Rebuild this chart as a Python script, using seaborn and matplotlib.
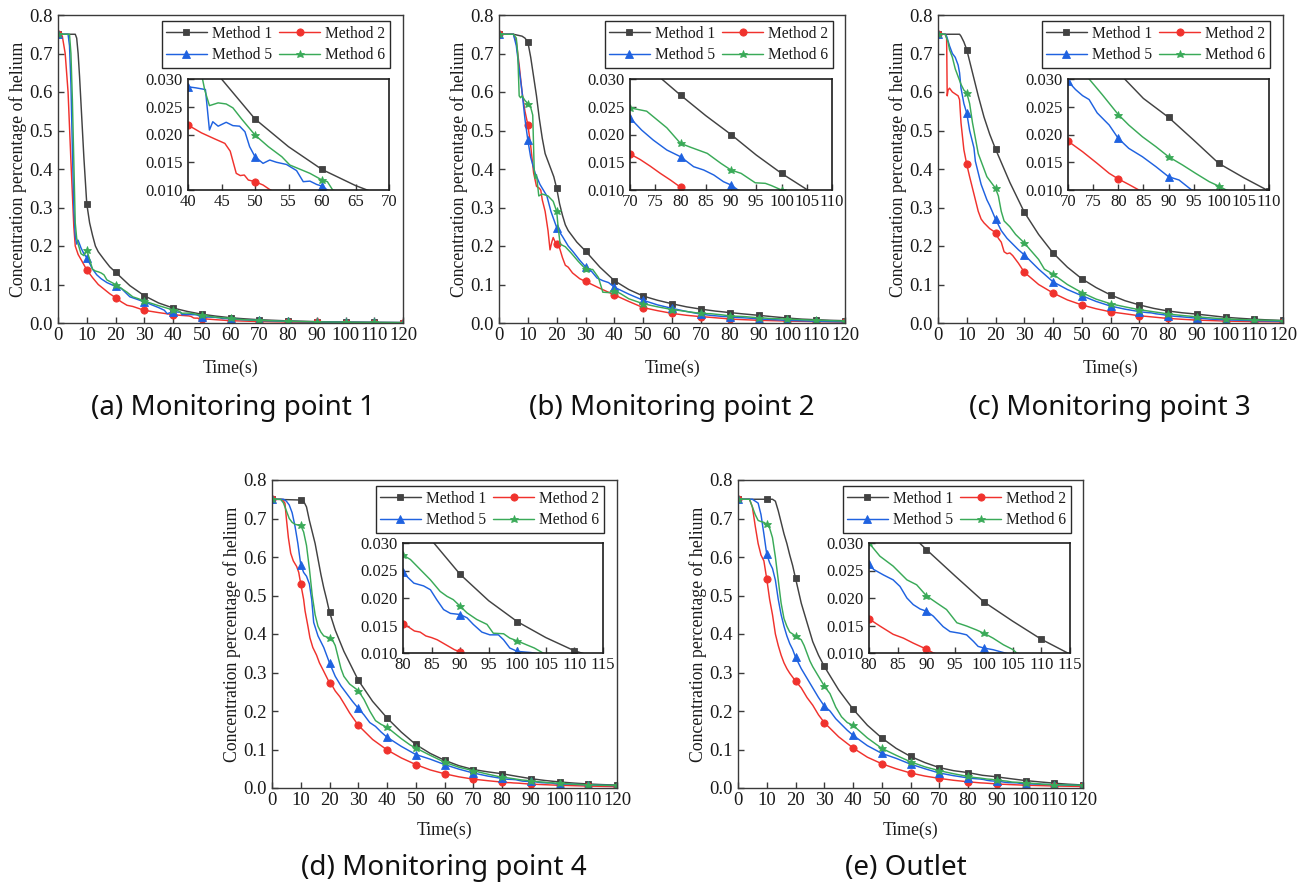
import numpy as np
import matplotlib
matplotlib.use("Agg")
import matplotlib.pyplot as plt
from matplotlib.ticker import FormatStrFormatter, MultipleLocator
import seaborn as sns

# ---------------------------------------------------------------------------
# Helium concentration versus time (s) at each monitoring location.
# Each method has its own time samples (T) and concentration values (C).
# ---------------------------------------------------------------------------
METHODS = ["Method 1", "Method 2", "Method 5", "Method 6"]

# (a) Monitoring point 1
A_M1_T = [0, 6, 6.5, 7, 7.5, 8, 8.5, 9, 9.5, 10, 11, 12, 13, 14, 16, 18, 20, 25, 30, 35,
          40, 45, 50, 55, 60, 65, 70, 80, 90, 100, 110, 120]
A_M1_C = [0.75, 0.75, 0.74, 0.70, 0.64, 0.57, 0.50, 0.43, 0.37, 0.31, 0.26, 0.228, 0.20, 0.185,
          0.165, 0.146, 0.132, 0.097, 0.071, 0.052, 0.039, 0.030, 0.0228, 0.0178, 0.0137, 0.0108,
          0.0085, 0.0055, 0.0036, 0.0025, 0.0017, 0.0012]
A_M2_T = [0, 1.5, 2.5, 3.5, 4.5, 5.5, 6, 7, 8, 10, 12, 14, 16, 18, 20, 22, 24, 26, 28, 30,
          35, 40, 42, 44, 45.5, 46.3, 47.2, 47.8, 48.4, 49, 50, 51.2, 52.3, 55, 60, 70, 80, 90,
          100, 110, 120]
A_M2_C = [0.75, 0.745, 0.70, 0.60, 0.42, 0.25, 0.20, 0.178, 0.165, 0.138, 0.118, 0.100, 0.088,
          0.076, 0.066, 0.055, 0.046, 0.043, 0.038, 0.033, 0.027, 0.0217, 0.0203, 0.0192, 0.0184,
          0.0170, 0.0130, 0.0126, 0.0127, 0.0118, 0.0115, 0.0109, 0.0100, 0.0085, 0.0060, 0.0038,
          0.0025, 0.0017, 0.0012, 0.0009, 0.0007]
A_M5_T = [0, 3.5, 4, 4.5, 5, 5.5, 6, 6.5, 7, 8, 9, 10, 11, 12, 13.5, 15, 17, 20, 22, 25,
          30, 35, 37, 38, 39, 40, 41.2, 42.6, 43.2, 43.7, 44.5, 45.7, 46.7, 47.7, 48.5, 49.2,
          50, 51.2, 52.2, 53.2, 54.7, 56.2, 57.2, 58.2, 59.2, 60, 60.8, 65, 70, 80, 90, 100,
          110, 120]
A_M5_C = [0.75, 0.75, 0.72, 0.62, 0.45, 0.30, 0.225, 0.205, 0.215, 0.195, 0.18, 0.17, 0.155,
          0.14, 0.125, 0.115, 0.105, 0.095, 0.09, 0.068, 0.055, 0.040, 0.033, 0.024, 0.027,
          0.0286, 0.0284, 0.0281, 0.0208, 0.0223, 0.0215, 0.0222, 0.0216, 0.0215, 0.0205, 0.0178,
          0.0160, 0.0148, 0.0154, 0.0150, 0.0146, 0.0135, 0.0115, 0.0116, 0.0110, 0.0107, 0.0100,
          0.0082, 0.0065, 0.0040, 0.0028, 0.0019, 0.0014, 0.0010]
A_M6_T = [0, 4, 4.5, 5, 5.5, 6, 6.5, 7, 8, 9, 10, 11, 12, 13, 14, 15, 16, 17, 18, 20,
          22, 24, 26, 28, 30, 35, 40, 41, 42, 42.5, 43.2, 44.5, 45.7, 46.7, 48, 50, 52, 54,
          55.2, 56, 58.2, 60, 60.8, 61.6, 65, 70, 80, 90, 100, 110, 120]
A_M6_C = [0.75, 0.75, 0.70, 0.58, 0.42, 0.26, 0.22, 0.205, 0.18, 0.175, 0.19, 0.165, 0.14,
          0.135, 0.133, 0.13, 0.125, 0.112, 0.108, 0.10, 0.09, 0.08, 0.068, 0.063, 0.057, 0.045,
          0.034, 0.033, 0.031, 0.028, 0.0252, 0.0257, 0.0255, 0.0248, 0.0228, 0.0199, 0.0178,
          0.0160, 0.0145, 0.0141, 0.0130, 0.0118, 0.0115, 0.0100, 0.0085, 0.0068, 0.0045,
          0.0030, 0.0020, 0.0015, 0.0010]

# (b) Monitoring point 2
B_M1_T = [0, 5, 8, 9, 10, 11, 12, 13, 14, 15, 16, 17, 18, 19, 20, 21, 22, 23, 24, 25,
          27, 30, 35, 40, 45, 50, 55, 60, 65, 70, 75, 80, 85, 90, 95, 100, 105, 110, 115, 120]
B_M1_C = [0.75, 0.75, 0.745, 0.74, 0.73, 0.69, 0.64, 0.59, 0.53, 0.48, 0.44, 0.42, 0.40, 0.38,
          0.35, 0.31, 0.28, 0.255, 0.24, 0.23, 0.21, 0.187, 0.145, 0.11, 0.087, 0.070, 0.059,
          0.050, 0.042, 0.036, 0.031, 0.0271, 0.0234, 0.0200, 0.0163, 0.0130, 0.0101, 0.0085,
          0.0070, 0.0060]
B_M2_T = [0, 5, 6, 7, 8, 9, 10, 11, 12, 13, 14, 14.5, 15, 16, 17, 17.7, 18.3, 18.8, 19.5, 20,
          21, 22, 23, 24, 25.5, 28, 30, 35, 40, 45, 50, 55, 60, 65, 70, 72, 74, 76, 78, 80,
          80.5, 90, 100, 110, 120]
B_M2_C = [0.75, 0.75, 0.73, 0.67, 0.60, 0.55, 0.515, 0.46, 0.39, 0.355, 0.35, 0.345, 0.32,
          0.29, 0.24, 0.19, 0.21, 0.222, 0.21, 0.204, 0.195, 0.17, 0.15, 0.145, 0.13, 0.115,
          0.108, 0.09, 0.073, 0.056, 0.040, 0.032, 0.025, 0.020, 0.0165, 0.0155, 0.0143, 0.0130,
          0.0118, 0.0105, 0.0100, 0.0070, 0.0050, 0.0035, 0.0025]
B_M5_T = [0, 5, 6, 7, 8, 9, 10, 11, 12.5, 14.2, 16.6, 18, 20, 22, 24, 25.7, 28, 30, 32, 34,
          36, 38, 40, 45, 50, 55, 60, 65, 70, 72.3, 74.6, 77.3, 80, 82.6, 84.6, 86.6, 88.5,
          90, 91.4, 100, 110, 120]
B_M5_C = [0.75, 0.75, 0.72, 0.66, 0.60, 0.53, 0.475, 0.43, 0.39, 0.36, 0.33, 0.29, 0.248,
          0.225, 0.20, 0.185, 0.163, 0.146, 0.135, 0.117, 0.11, 0.105, 0.093, 0.075, 0.059,
          0.047, 0.038, 0.030, 0.0230, 0.0208, 0.0190, 0.0172, 0.0160, 0.0142, 0.0136, 0.0127,
          0.0115, 0.0109, 0.0100, 0.0070, 0.0045, 0.0030]
B_M6_T = [0, 5, 6, 6.5, 7, 7.5, 8, 9, 10, 11, 11.7, 12.2, 12.5, 13, 13.8, 15, 17, 18.8, 20,
          20.5, 21.2, 23, 25, 27.5, 30, 32.5, 34.5, 36, 38, 40, 42, 45, 50, 55, 60, 65, 70,
          73.3, 77.3, 80, 82, 85.3, 88, 90, 92, 94.8, 96.8, 98, 100, 110, 120]
B_M6_C = [0.75, 0.75, 0.74, 0.70, 0.59, 0.585, 0.59, 0.578, 0.57, 0.56, 0.54, 0.40, 0.375,
          0.385, 0.33, 0.335, 0.33, 0.316, 0.29, 0.25, 0.205, 0.198, 0.182, 0.16, 0.14, 0.139,
          0.118, 0.08, 0.079, 0.083, 0.077, 0.063, 0.050, 0.042, 0.035, 0.030, 0.0248, 0.0242,
          0.0212, 0.0184, 0.0177, 0.0166, 0.0148, 0.0136, 0.0130, 0.0113, 0.0112, 0.0108,
          0.0100, 0.0070, 0.0050]

# (c) Monitoring point 3
C_M1_T = [0, 7.5, 8, 9, 10, 12, 14, 16, 18, 20, 25, 30, 35, 40, 45, 50, 55, 60, 65, 70,
          75, 80, 85, 90, 95, 100, 105, 110, 115, 120]
C_M1_C = [0.75, 0.75, 0.745, 0.73, 0.71, 0.65, 0.59, 0.535, 0.49, 0.452, 0.365, 0.288, 0.23,
          0.182, 0.145, 0.115, 0.092, 0.073, 0.058, 0.047, 0.038, 0.0312, 0.0265, 0.0231, 0.0190,
          0.0148, 0.0122, 0.0098, 0.0080, 0.0065]
C_M2_T = [0, 2.5, 3, 3.2, 3.5, 4, 4.5, 5, 6, 7, 7.5, 8, 9, 10, 11, 12, 13, 14, 15, 16,
          18, 20, 21, 22, 23, 24, 25, 26, 28, 30, 35, 40, 45, 50, 55, 60, 65, 70, 72.9, 75.8,
          78.2, 80, 82.1, 84.1, 90, 100, 110, 120]
C_M2_C = [0.75, 0.75, 0.74, 0.59, 0.605, 0.61, 0.605, 0.60, 0.595, 0.59, 0.58, 0.52, 0.45,
          0.412, 0.38, 0.35, 0.32, 0.29, 0.27, 0.26, 0.245, 0.235, 0.22, 0.21, 0.185, 0.18,
          0.182, 0.175, 0.155, 0.132, 0.10, 0.078, 0.06, 0.047, 0.037, 0.029, 0.024, 0.0188,
          0.0169, 0.0148, 0.0130, 0.0120, 0.0110, 0.0100, 0.0075, 0.0050, 0.0035, 0.0028]
C_M5_T = [0, 2.5, 3, 4, 5, 6, 7, 7.5, 8, 9, 10, 11, 12, 12.5, 13, 14, 15, 16, 17, 18,
          20, 22, 24, 26, 28, 30, 35, 40, 45, 50, 55, 60, 65, 70, 71.5, 72.9, 74.2, 75.8, 78.2,
          80, 82.1, 84.8, 87.5, 90, 92.1, 94.6, 100, 110, 120]
C_M5_C = [0.75, 0.75, 0.745, 0.72, 0.70, 0.69, 0.67, 0.65, 0.61, 0.57, 0.545, 0.50, 0.47,
          0.455, 0.42, 0.39, 0.36, 0.34, 0.32, 0.305, 0.27, 0.24, 0.22, 0.205, 0.19, 0.177, 0.14,
          0.107, 0.087, 0.071, 0.056, 0.044, 0.036, 0.0296, 0.0281, 0.0270, 0.0263, 0.0239,
          0.0217, 0.0193, 0.0175, 0.0160, 0.0142, 0.0124, 0.0118, 0.0100, 0.0082, 0.0060, 0.0045]
C_M6_T = [0, 2.5, 3.5, 4, 5, 6, 7, 8, 9, 10, 11, 12, 13, 14, 15, 16, 17, 18, 19, 20,
          21, 22, 23, 25, 27, 30, 35, 37, 40, 45, 50, 55, 60, 65, 70, 74.2, 76.8, 80, 82.1,
          84.8, 87.5, 90, 92.8, 95.4, 98.1, 100, 101.5, 110, 120]
C_M6_C = [0.75, 0.75, 0.73, 0.71, 0.69, 0.66, 0.64, 0.62, 0.605, 0.598, 0.57, 0.52, 0.48,
          0.44, 0.42, 0.40, 0.38, 0.37, 0.36, 0.35, 0.33, 0.29, 0.265, 0.25, 0.23, 0.208, 0.165,
          0.14, 0.127, 0.10, 0.079, 0.062, 0.050, 0.042, 0.0345, 0.0300, 0.0272, 0.0236, 0.0217,
          0.0196, 0.0178, 0.0160, 0.0145, 0.0130, 0.0115, 0.0107, 0.0100, 0.0078, 0.0060]

# (d) Monitoring point 4
D_M1_T = [0, 10, 11, 12, 13, 14, 15, 16, 17, 18, 19, 20, 22, 25, 30, 35, 40, 45, 50, 55,
          60, 65, 70, 75, 80, 85, 90, 95, 100, 105, 110, 115, 120]
D_M1_C = [0.75, 0.748, 0.745, 0.73, 0.695, 0.665, 0.635, 0.595, 0.555, 0.52, 0.49, 0.457,
          0.41, 0.355, 0.28, 0.225, 0.182, 0.145, 0.113, 0.09, 0.072, 0.058, 0.048, 0.042, 0.037,
          0.0305, 0.0243, 0.0195, 0.0157, 0.0128, 0.0104, 0.0088, 0.0075]
D_M2_T = [0, 3.5, 4.5, 5, 5.7, 6.5, 7.4, 8.6, 9.3, 10, 11, 11.5, 12.5, 13.2, 14.2, 15.5, 16.5,
          17.8, 19, 20, 21, 22, 23.6, 25, 27, 30, 35, 40, 45, 50, 55, 60, 65, 70, 75, 80, 81,
          82, 83, 84, 85, 86, 87, 88, 89, 90, 90.3, 100, 110, 120]
D_M2_C = [0.75, 0.75, 0.74, 0.70, 0.65, 0.61, 0.59, 0.575, 0.56, 0.53, 0.49, 0.46, 0.42, 0.39,
          0.365, 0.345, 0.325, 0.306, 0.288, 0.273, 0.265, 0.252, 0.237, 0.22, 0.195, 0.163,
          0.126, 0.099, 0.078, 0.061, 0.047, 0.037, 0.029, 0.023, 0.019, 0.0153, 0.0147, 0.0140,
          0.0138, 0.0131, 0.0128, 0.0124, 0.0118, 0.0112, 0.0106, 0.0102, 0.0100, 0.0070,
          0.0050, 0.0035]
D_M5_T = [0, 4, 5, 6, 7, 8, 9, 10, 11, 12, 13, 13.8, 14.5, 16, 18, 20, 22, 24, 26, 28,
          30, 32, 34, 36, 38, 40, 45, 50, 55, 60, 65, 70, 75, 80, 80.7, 81.9, 83.6, 84.8, 85.9,
          87.1, 88.3, 90, 91.2, 92.3, 93.8, 95.2, 96.7, 97.6, 98.7, 100, 102.2, 103, 110, 120]
D_M5_C = [0.75, 0.75, 0.745, 0.735, 0.715, 0.68, 0.635, 0.58, 0.56, 0.55, 0.53, 0.49, 0.43,
          0.395, 0.365, 0.325, 0.29, 0.265, 0.245, 0.225, 0.207, 0.19, 0.17, 0.16, 0.145, 0.132,
          0.108, 0.087, 0.075, 0.061, 0.049, 0.039, 0.031, 0.0248, 0.0239, 0.0227, 0.0222,
          0.0215, 0.0197, 0.0179, 0.0172, 0.0170, 0.0164, 0.0152, 0.0138, 0.0133, 0.0133,
          0.0124, 0.0109, 0.0103, 0.0101, 0.0100, 0.0080, 0.0060]
D_M6_T = [0, 3, 4, 5, 6, 7, 8, 9, 10, 11, 12, 13, 14, 15, 16, 17, 18, 20, 21, 22,
          23, 24, 25, 27, 30, 32, 34, 36, 38, 40, 45, 48, 50, 55, 60, 65, 70, 75, 80, 81.3,
          83, 84.8, 86.5, 87.7, 88.8, 90, 91.2, 92.9, 94.7, 95.8, 97.6, 98.7, 100, 101.6, 103,
          104.5, 110, 120]
D_M6_C = [0.75, 0.75, 0.74, 0.72, 0.70, 0.69, 0.685, 0.683, 0.682, 0.665, 0.63, 0.57, 0.50,
          0.45, 0.42, 0.405, 0.395, 0.39, 0.385, 0.37, 0.34, 0.31, 0.29, 0.27, 0.253, 0.23, 0.20,
          0.175, 0.165, 0.158, 0.128, 0.112, 0.104, 0.085, 0.067, 0.054, 0.045, 0.036, 0.0278,
          0.0270, 0.0252, 0.0233, 0.0212, 0.0203, 0.0197, 0.0185, 0.0173, 0.0161, 0.0152,
          0.0136, 0.0135, 0.0127, 0.0122, 0.0115, 0.0109, 0.0100, 0.0080, 0.0065]

# (e) Outlet
E_M1_T = [0, 10, 12, 13, 14, 15, 16, 17, 18, 19, 20, 22, 24, 26, 28, 30, 35, 40, 45, 50,
          55, 60, 65, 70, 75, 80, 85, 88.8, 90, 95, 100, 105, 110, 114.6, 120]
E_M1_C = [0.75, 0.75, 0.75, 0.745, 0.72, 0.69, 0.66, 0.635, 0.605, 0.578, 0.545, 0.48, 0.43,
          0.38, 0.345, 0.316, 0.255, 0.205, 0.163, 0.13, 0.103, 0.082, 0.066, 0.053, 0.045,
          0.040, 0.033, 0.030, 0.0288, 0.0240, 0.0193, 0.0158, 0.0125, 0.0100, 0.0078]
E_M2_T = [0, 4, 5, 6, 7, 8, 9, 10, 11, 12, 13, 14, 15, 16, 17, 18, 20, 22, 24, 26,
          28, 30, 35, 40, 45, 50, 55, 60, 65, 70, 75, 80, 81.9, 84.2, 86, 87.7, 90, 91.2, 100,
          110, 120]
E_M2_C = [0.75, 0.75, 0.73, 0.68, 0.635, 0.605, 0.59, 0.543, 0.49, 0.45, 0.40, 0.37, 0.345,
          0.325, 0.31, 0.298, 0.278, 0.26, 0.235, 0.215, 0.19, 0.17, 0.133, 0.104, 0.08, 0.063,
          0.05, 0.039, 0.031, 0.025, 0.020, 0.0162, 0.0149, 0.0134, 0.0127, 0.0118, 0.0107,
          0.0100, 0.0072, 0.0052, 0.0040]
E_M5_T = [0, 5, 6, 7, 8, 9, 10, 11, 12, 13, 14, 15, 16, 17, 18, 19, 20, 22, 24, 26,
          28, 30, 32, 34, 36, 38, 40, 45, 50, 55, 60, 65, 70, 75, 80, 80.8, 82.5, 84.2, 85.4,
          86.6, 87.7, 88.9, 90, 91.2, 92.9, 94.1, 95.8, 97, 98.2, 99, 100, 101.6, 103.7, 110, 120]
E_M5_C = [0.75, 0.75, 0.745, 0.74, 0.71, 0.66, 0.607, 0.585, 0.57, 0.54, 0.49, 0.45, 0.42,
          0.395, 0.375, 0.36, 0.34, 0.31, 0.285, 0.26, 0.235, 0.213, 0.2, 0.18, 0.165, 0.15,
          0.137, 0.11, 0.09, 0.077, 0.062, 0.05, 0.039, 0.032, 0.0262, 0.0252, 0.0242, 0.0233,
          0.0221, 0.0200, 0.0188, 0.0180, 0.0176, 0.0167, 0.0148, 0.0139, 0.0136, 0.0133,
          0.0121, 0.0112, 0.0109, 0.0106, 0.0100, 0.0085, 0.0065]
E_M6_T = [0, 4, 5, 6, 7, 8, 9, 10, 11, 12, 13, 14, 15, 16, 17, 18, 20, 22, 23, 24,
          25, 26, 28, 30, 32, 34, 36, 38, 40, 45, 50, 55, 60, 65, 70, 75, 80, 81.9, 84.2, 86.6,
          88.3, 90, 91.8, 93.5, 95.3, 97, 98.7, 100, 101.6, 103.4, 105.1, 105.7, 110, 120]
E_M6_C = [0.75, 0.75, 0.73, 0.71, 0.695, 0.692, 0.69, 0.685, 0.675, 0.65, 0.60, 0.54, 0.48,
          0.44, 0.42, 0.405, 0.395, 0.385, 0.37, 0.35, 0.33, 0.315, 0.29, 0.265, 0.245, 0.21,
          0.185, 0.17, 0.163, 0.13, 0.103, 0.085, 0.068, 0.055, 0.045, 0.037, 0.0300, 0.0276,
          0.0258, 0.0233, 0.0224, 0.0204, 0.0191, 0.0179, 0.0155, 0.0149, 0.0142, 0.0136,
          0.0127, 0.0115, 0.0106, 0.0100, 0.0085, 0.0070]

CAPTIONS = ["(a) Monitoring point 1", "(b) Monitoring point 2", "(c) Monitoring point 3",
            "(d) Monitoring point 4", "(e) Outlet"]
INSET_XLIMS = [(40, 70), (70, 110), (70, 110), (80, 115), (80, 115)]
MAIN_XTICKS = list(range(0, 121, 10))
MAIN_YTICKS = [0.0, 0.1, 0.2, 0.3, 0.4, 0.5, 0.6, 0.7, 0.8]
INSET_YTICKS = [0.010, 0.015, 0.020, 0.025, 0.030]

SERIES = [
    [(A_M1_T, A_M1_C), (A_M2_T, A_M2_C), (A_M5_T, A_M5_C), (A_M6_T, A_M6_C)],
    [(B_M1_T, B_M1_C), (B_M2_T, B_M2_C), (B_M5_T, B_M5_C), (B_M6_T, B_M6_C)],
    [(C_M1_T, C_M1_C), (C_M2_T, C_M2_C), (C_M5_T, C_M5_C), (C_M6_T, C_M6_C)],
    [(D_M1_T, D_M1_C), (D_M2_T, D_M2_C), (D_M5_T, D_M5_C), (D_M6_T, D_M6_C)],
    [(E_M1_T, E_M1_C), (E_M2_T, E_M2_C), (E_M5_T, E_M5_C), (E_M6_T, E_M6_C)],
]

# ---------------------------------------------------------------------------
# Styling
# ---------------------------------------------------------------------------
STYLE = {
    "Method 1": dict(color="#424242", marker="s", ms=4.8),
    "Method 2": dict(color="#f0322d", marker="o", ms=5.2),
    "Method 5": dict(color="#1f62e0", marker="^", ms=5.4),
    "Method 6": dict(color="#3aaa58", marker="*", ms=6.2),
}

sns.set_theme(style="white")
plt.rcParams.update({
    "axes.edgecolor": "#3a3a3a",
    "axes.linewidth": 1.0,
    "axes.facecolor": "white",
    "figure.facecolor": "white",
    "text.color": "#1a1a1a",
    "axes.labelcolor": "#1a1a1a",
    "xtick.color": "#3a3a3a",
    "ytick.color": "#3a3a3a",
    "xtick.labelcolor": "#1a1a1a",
    "ytick.labelcolor": "#1a1a1a",
})
plt.rcParams["font.family"] = ["Liberation Serif", "DejaVu Serif"]

W, H, DPI = 1316, 882, 100
TICK_FS = 13.5
INSET_TICK_FS = 12.0
LABEL_FS = 12.8
LEGEND_FS = 11.2
CAPTION_FS = 20

# axes boxes in pixels: (left, top, right, bottom)
MAIN_BOX = [(58, 15, 403, 323), (499, 15, 845, 323), (938, 15, 1283, 323),
            (272, 480, 617, 788), (738, 480, 1083, 788)]
INSET_BOX = [(188, 79, 389, 190), (630, 79, 832, 190), (1068, 79, 1269, 190),
             (403, 543, 603, 653), (869, 543, 1070, 653)]
XLABEL_Y = [368, 368, 368, 830, 830]
CAPTION_XY = [(233, 408), (672, 408), (1110, 408), (444, 868), (906, 868)]


def to_rect(box):
    l, t, r, b = box
    return [l / W, 1 - b / H, (r - l) / W, (b - t) / H]


def draw_curves(ax, series):
    for name, (t, c) in zip(METHODS, series):
        st = STYLE[name]
        t = np.asarray(t, dtype=float)
        c = np.asarray(c, dtype=float)
        marks = [i for i, v in enumerate(t) if np.isclose(v % 10, 0)]
        sns.lineplot(x=t, y=c, ax=ax, color=st["color"], linewidth=1.05,
                     marker=st["marker"], markersize=st["ms"], markevery=marks,
                     markeredgecolor=st["color"], markeredgewidth=0.6,
                     estimator=None, sort=False, label=name, legend=False)


def style_ticks(ax, size):
    ax.tick_params(axis="both", which="major", direction="in", length=4, width=1.0,
                   labelsize=size, bottom=True, left=True, top=False, right=False)
    ax.tick_params(axis="x", pad=3)
    ax.tick_params(axis="y", pad=4)


fig = plt.figure(figsize=(W / DPI, H / DPI), dpi=DPI)

for k in range(5):
    ax = fig.add_axes(to_rect(MAIN_BOX[k]))
    draw_curves(ax, SERIES[k])
    ax.set_xlim(0, 120)
    ax.set_ylim(0, 0.8)
    ax.set_xticks(MAIN_XTICKS)
    ax.set_yticks(MAIN_YTICKS)
    ax.yaxis.set_major_formatter(FormatStrFormatter("%.1f"))
    style_ticks(ax, TICK_FS)
    for s in ax.spines.values():
        s.set_visible(True)

    l, t, r, b = MAIN_BOX[k]
    ax.set_xlabel("Time(s)", fontsize=LABEL_FS, va="center")
    ax.xaxis.set_label_coords(0.5, -(XLABEL_Y[k] - b) / (b - t))
    ax.set_ylabel("Concentration percentage of helium", fontsize=LABEL_FS, va="center")
    ax.yaxis.set_label_coords(-40 / (r - l), 0.5)

    # legend in two rows: Method 1 / Method 2 over Method 5 / Method 6
    handles, labels = ax.get_legend_handles_labels()
    order = [0, 2, 1, 3]
    il, it, ir, ib = INSET_BOX[k]
    anchor = ((ir + 1 - l) / (r - l), 1 - 6 / (b - t))
    leg = ax.legend([handles[i] for i in order], [labels[i] for i in order],
                    ncol=2, loc="upper right", bbox_to_anchor=anchor, borderaxespad=0,
                    fontsize=LEGEND_FS, frameon=True, fancybox=False, framealpha=1,
                    handlelength=2.6, handletextpad=0.35, columnspacing=0.45,
                    labelspacing=0.35, borderpad=0.3)
    leg.get_frame().set_edgecolor("#2a2a2a")
    leg.get_frame().set_linewidth(1.0)

    # zoomed view of the tail
    axi = fig.add_axes(to_rect(INSET_BOX[k]))
    draw_curves(axi, SERIES[k])
    axi.set_xlim(*INSET_XLIMS[k])
    axi.set_ylim(0.010, 0.030)
    axi.xaxis.set_major_locator(MultipleLocator(5))
    axi.set_yticks(INSET_YTICKS)
    axi.yaxis.set_major_formatter(FormatStrFormatter("%.3f"))
    style_ticks(axi, INSET_TICK_FS)
    for s in axi.spines.values():
        s.set_visible(True)
        s.set_edgecolor("#1e1e1e")
        s.set_linewidth(1.2)

    cx, cy = CAPTION_XY[k]
    fig.text(cx / W, 1 - cy / H, CAPTIONS[k], ha="center", va="center",
             fontsize=CAPTION_FS, family=["Noto Sans", "DejaVu Sans"], color="#111111")

fig.savefig("out.png", dpi=DPI, facecolor="white")
